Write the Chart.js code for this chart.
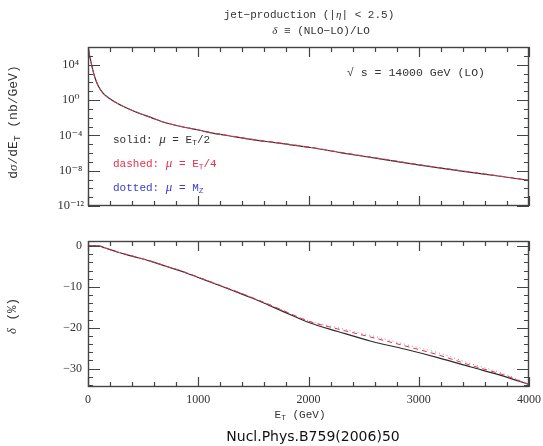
<!DOCTYPE html>
<html><head><meta charset="utf-8">
<script src="https://cdn.jsdelivr.net/npm/chart.js@4.4.1/dist/chart.umd.min.js"></script>
<style>
html,body{margin:0;padding:0;background:#fff;}
#wrap{position:relative;width:543px;height:446px;overflow:hidden;background:#fff;}
canvas{position:absolute;left:0;}
.t{position:absolute;white-space:nowrap;font-family:"Liberation Mono","DejaVu Sans Mono",monospace;color:#333;line-height:1;}
.c{transform:translate(-50%,-50%);}
.l{transform:translate(0,-50%);}
.r{transform:translate(-50%,-50%) rotate(-90deg);}
sub{font-size:72%;vertical-align:-0.3em;line-height:0;}
</style></head><body>
<div id="wrap">
<canvas id="cTop" width="543" height="210" style="top:0"></canvas>
<canvas id="cBot" width="543" height="182" style="top:228px"></canvas>
<div class="t c" style="left:309px;top:15px;font-size:11px">jet−production (|<i style="font-family:'Liberation Serif',serif">η</i>| &lt; 2.5)</div>
<div class="t c" style="left:321px;top:31px;font-size:11px"><i style="font-family:'Liberation Serif',serif">δ</i> ≡ (NLO−LO)/LO</div>
<div class="t c" style="left:416px;top:73px;font-size:11.5px">√ s = 14000 GeV (LO)</div>
<div class="t l" style="left:113px;top:139px;font-size:11px;color:#333">solid: <i style="font-family:'Liberation Serif',serif;font-size:13px">μ</i> = E<sub>T</sub>/2</div>
<div class="t l" style="left:113px;top:163px;font-size:11px;color:#e8304a">dashed: <i style="font-family:'Liberation Serif',serif;font-size:13px">μ</i> = E<sub>T</sub>/4</div>
<div class="t l" style="left:113px;top:187px;font-size:11px;color:#3a3ad8">dotted: <i style="font-family:'Liberation Serif',serif;font-size:13px">μ</i> = M<sub>Z</sub></div>
<div class="t r" style="left:13px;top:122px;font-size:13px">d<span style="font-family:'Liberation Serif',serif;font-style:italic">σ</span>/dE<sub>T</sub> (nb/GeV)</div>
<div class="t r" style="left:13px;top:316px;font-size:12.5px"><span style="font-family:'Liberation Serif',serif;font-style:italic">δ</span> (%)</div>
<div class="t c" style="left:300px;top:415px;font-size:11px">E<sub>T</sub> (GeV)</div>
<div class="t c" style="left:313px;top:436px;font-size:14px;font-family:'DejaVu Sans',sans-serif;color:#111">Nucl.Phys.B759(2006)50</div>
</div>
<script>
// ---- data ----
const E_TOP = [0,12,24,37,61,91,136,212,303,424,575,696,842,1000,1143,1300,1445,1600,1747,2018,2300,2649,3011,3374,3737,4000];
const XS_SOLID  = [1.58e6,1.58e5,3.16e4,5.62e3,398,44.7,6.03,1.05,0.24,0.0501,0.01,2.82e-3,1.0e-3,3.98e-4,1.66e-4,7.94e-5,3.98e-5,2.14e-5,1.2e-5,4.17e-6,1.05e-6,2.19e-7,4.27e-8,9.55e-9,2.34e-9,7.94e-10];
const XS_DASHED = [1.58e6,1.58e5,3.16e4,5.62e3,398,44.7,6.03,1.05,0.242,0.0508,0.0102,2.9e-3,1.04e-3,4.2e-4,1.76e-4,8.5e-5,4.3e-5,2.32e-5,1.3e-5,4.55e-6,1.15e-6,2.4e-7,4.65e-8,1.03e-8,2.45e-9,7.94e-10];
const XS_DOTTED = [1.58e6,1.58e5,3.16e4,5.62e3,398,44.7,6.03,1.05,0.241,0.0505,0.0101,2.86e-3,1.02e-3,4.1e-4,1.72e-4,8.2e-5,4.15e-5,2.23e-5,1.25e-5,4.35e-6,1.1e-6,2.3e-7,4.45e-8,9.9e-9,2.4e-9,7.94e-10];

const E_BOT = [0,50,105,150,271,400,572,700,873,1000,1175,1300,1476,1600,1777,2003,2266,2568,2870,3172,3474,3776,4000];
const DELTA_SOLID  = [0.1,0.05,0,-0.41,-1.5,-2.46,-3.75,-4.88,-6.4,-7.68,-9.45,-10.74,-12.6,-14.0,-16.1,-18.7,-20.9,-23.3,-25.2,-27.3,-29.6,-31.9,-33.9];
const DELTA_DASHED = [0.1,0.05,0,-0.41,-1.45,-2.4,-3.7,-4.82,-6.32,-7.6,-9.35,-10.62,-12.45,-13.8,-15.85,-18.4,-20.3,-22.3,-24.4,-26.6,-29.2,-31.6,-33.9];
const DELTA_DOTTED = [0.1,0.05,0,-0.4,-1.45,-2.42,-3.72,-4.85,-6.35,-7.62,-9.38,-10.65,-12.5,-13.85,-15.85,-18.3,-20.0,-21.9,-24.0,-26.1,-28.8,-31.3,-33.8];

const X_MAJOR = [0,1000,2000,3000,4000];
const X_MINOR = [200,400,600,800,1200,1400,1600,1800,2200,2400,2600,2800,3200,3400,3600,3800];
const TOP_Y_MAJOR = [1e-12,1e-8,1e-4,1,1e4];
const TOP_Y_LABELS = ['10⁻¹²','10⁻⁸','10⁻⁴','10⁰','10⁴'];
const TOP_Y_MINOR = [1e-11,1e-10,1e-9,1e-7,1e-6,1e-5,1e-3,1e-2,1e-1,10,100,1000,1e5];
const BOT_Y_MAJOR = [0,-10,-20,-30];
const BOT_Y_MINOR = [-2,-4,-6,-8,-12,-14,-16,-18,-22,-24,-26,-28,-32,-34];

// ---- styling ----
const MONO = '"Liberation Mono","DejaVu Sans Mono",monospace';
const SERIF = '"Liberation Serif","DejaVu Serif",serif';
const INK = '#333';
const pts = (xs, ys) => xs.map((x, i) => ({x: x, y: ys[i]}));

const frameTicks = {
  id: 'frameTicks',
  afterDatasetsDraw(chart, args, o) {
    const {ctx, chartArea: a, scales} = chart;
    const x = scales.x, y = scales.y;
    ctx.save();
    ctx.strokeStyle = '#444';
    ctx.lineWidth = 1.2;
    ctx.beginPath();
    const seg = (x1, y1, x2, y2) => { ctx.moveTo(x1, y1); ctx.lineTo(x2, y2); };
    o.xMajor.forEach(v => { const p = Math.round(x.getPixelForValue(v)) + 0.5;
      seg(p, a.bottom, p, a.bottom - o.xMajLen); seg(p, a.top, p, a.top + o.xMajLen); });
    o.xMinor.forEach(v => { const p = Math.round(x.getPixelForValue(v)) + 0.5;
      seg(p, a.bottom, p, a.bottom - o.xMinLen); seg(p, a.top, p, a.top + o.xMinLen); });
    o.yMajor.forEach(v => { const p = Math.round(y.getPixelForValue(v)) + 0.5;
      seg(a.left, p, a.left + o.yMajLen, p); seg(a.right, p, a.right - o.yMajLen, p); });
    o.yMinor.forEach(v => { const p = Math.round(y.getPixelForValue(v)) + 0.5;
      seg(a.left, p, a.left + o.yMinLen, p); seg(a.right, p, a.right - o.yMinLen, p); });
    ctx.stroke();
    ctx.lineWidth = 1.4;
    ctx.strokeRect(a.left + 0.5, a.top + 0.5, a.right - a.left - 1, a.bottom - a.top - 1);
    ctx.restore();
  }
};

function lineSet(label, data, color, width, dash, order) {
  return {label, data, borderColor: color, borderWidth: width, borderDash: dash,
    pointRadius: 0, fill: false, cubicInterpolationMode: 'monotone', order};
}

Chart.defaults.font.family = MONO;
Chart.defaults.color = INK;

new Chart(document.getElementById('cTop'), {
  type: 'line',
  data: { datasets: [
    lineSet('solid: μ = E_T/2', pts(E_TOP, XS_SOLID), '#2b2b2b', 1.2, [], 2),
    lineSet('dashed: μ = E_T/4', pts(E_TOP, XS_DASHED), '#e8304a', 1, [5, 4], 0),
    lineSet('dotted: μ = M_Z', pts(E_TOP, XS_DOTTED), '#d070a0', 1, [1, 3], 1)
  ]},
  options: {
    responsive: false, animation: false, devicePixelRatio: 1,
    layout: {padding: {top: 47, right: 14, bottom: 4, left: 0}},
    plugins: {legend: {display: false}, tooltip: {enabled: false},
      frameTicks: {xMajor: X_MAJOR, xMinor: X_MINOR, yMajor: TOP_Y_MAJOR, yMinor: TOP_Y_MINOR,
        xMajLen: 10, xMinLen: 5, yMajLen: 12, yMinLen: 5}},
    scales: {
      x: {type: 'linear', min: 0, max: 4000, display: false},
      y: {type: 'logarithmic', min: 1e-12, max: 1e6,
        grid: {display: false, drawTicks: false}, border: {display: false},
        afterBuildTicks: s => { s.ticks = TOP_Y_MAJOR.map(v => ({value: v})); },
        afterFit: s => { s.width = 88; s.paddingTop = 0; s.paddingBottom = 0; },
        ticks: {crossAlign: 'center', padding: 4, color: INK, font: {family: SERIF, size: 12.5},
          callback: v => { const i = TOP_Y_MAJOR.indexOf(v); return i >= 0 ? TOP_Y_LABELS[i] : ''; }}
      }
    }
  },
  plugins: [frameTicks]
});

new Chart(document.getElementById('cBot'), {
  type: 'line',
  data: { datasets: [
    lineSet('solid: μ = E_T/2', pts(E_BOT, DELTA_SOLID), '#2b2b2b', 1.2, [], 2),
    lineSet('dashed: μ = E_T/4', pts(E_BOT, DELTA_DASHED), '#e8304a', 1, [5, 4], 0),
    lineSet('dotted: μ = M_Z', pts(E_BOT, DELTA_DOTTED), '#d070a0', 1, [1, 3], 1)
  ]},
  options: {
    responsive: false, animation: false, devicePixelRatio: 1,
    layout: {padding: {top: 13, right: 14, bottom: 0, left: 0}},
    plugins: {legend: {display: false}, tooltip: {enabled: false},
      frameTicks: {xMajor: X_MAJOR, xMinor: X_MINOR, yMajor: BOT_Y_MAJOR, yMinor: BOT_Y_MINOR,
        xMajLen: 10, xMinLen: 5, yMajLen: 12, yMinLen: 5}},
    scales: {
      x: {type: 'linear', min: 0, max: 4000,
        grid: {display: false, drawTicks: false}, border: {display: false},
        afterBuildTicks: s => { s.ticks = X_MAJOR.map(v => ({value: v})); },
        afterFit: s => { s.height = 23; s.paddingLeft = 0; s.paddingRight = 0; },
        ticks: {padding: 6, maxRotation: 0, color: INK, font: {family: SERIF, size: 12},
          callback: v => String(v)}
      },
      y: {type: 'linear', min: -34.5, max: 1.25,
        grid: {display: false, drawTicks: false}, border: {display: false},
        afterBuildTicks: s => { s.ticks = BOT_Y_MAJOR.map(v => ({value: v})); },
        afterFit: s => { s.width = 88; s.paddingTop = 0; s.paddingBottom = 0; },
        ticks: {padding: 6, color: INK, font: {family: SERIF, size: 12},
          callback: v => v < 0 ? '−' + Math.abs(v) : String(v)}
      }
    }
  },
  plugins: [frameTicks]
});
</script>
</body></html>
